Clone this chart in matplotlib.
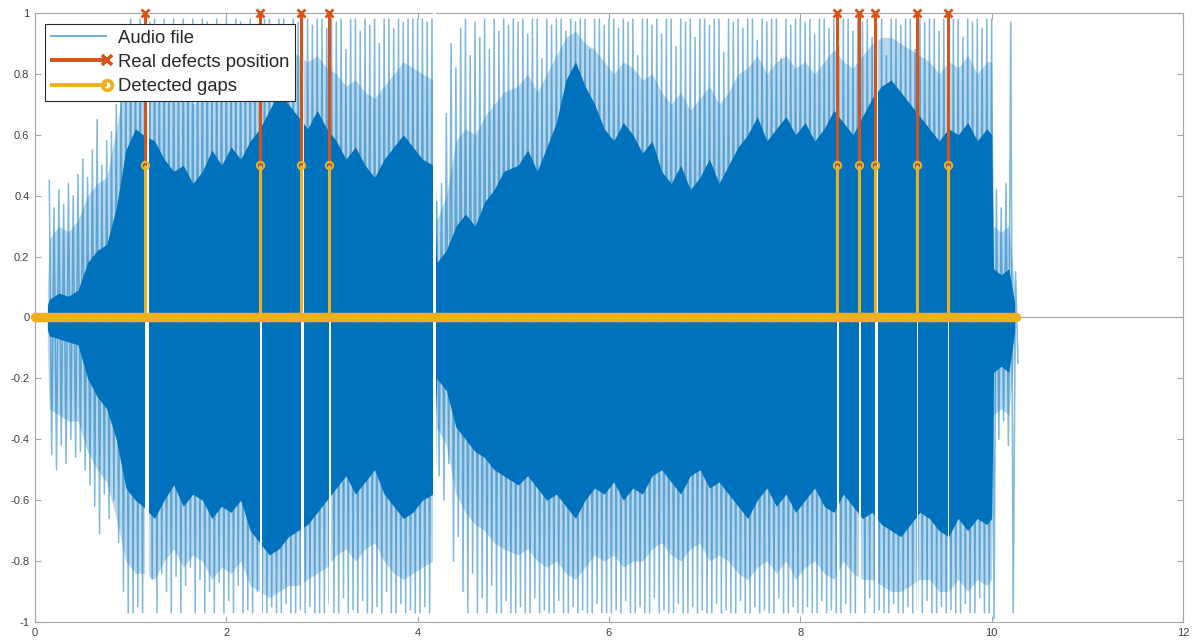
from matplotlib import pyplot as plt
from matplotlib.legend_handler import HandlerBase
from matplotlib.lines import Line2D
import numpy as np

plt.rcParams['font.family'] = ['Liberation Sans', 'DejaVu Sans']

# peak amplitude of the audio file in 50 ms frames (0.15 s ... 10.25 s)
peak_t = np.linspace(0.15, 10.25, 203)
peak_hi = [0.45, 0.36, 0.42, 0.37, 0.44, 0.40, 0.47, 0.52, 0.46, 0.55, 0.65, 0.50, 0.58, 0.61, 0.70, 0.92, 0.86,
           0.98, 0.95, 0.98, 0.96, 0.97, 0.98, 0.92, 0.98, 0.86, 0.98, 0.90, 0.98, 0.95, 0.98, 0.93, 0.98, 0.97, 0.84, 0.98, 0.96,
           0.98, 0.94, 0.98, 0.97, 0.91, 0.98, 0.96, 0.98, 0.98, 0.98, 0.95, 0.98, 0.98, 0.93, 0.98, 0.97, 0.98, 0.98, 0.96, 0.98,
           0.98, 0.95, 0.98, 0.97, 0.98, 0.88, 0.98, 0.98, 0.94, 0.98, 0.96, 0.98, 0.90, 0.98, 0.98, 0.95, 0.98, 0.97, 0.98, 0.98,
           0.98, 0.98, 0.97, 0.98, 0.38, 0.44, 0.67, 0.90, 0.82, 0.95, 0.98, 0.86, 0.97, 0.92, 0.98, 0.88, 0.98, 0.94, 0.98, 0.96,
           0.98, 0.97, 0.98, 0.93, 0.98, 0.98, 0.85, 0.98, 0.96, 0.98, 0.98, 0.94, 0.98, 0.97, 0.98, 0.98, 0.88, 0.98, 0.98, 0.96,
           0.98, 0.98, 0.95, 0.98, 0.97, 0.98, 0.86, 0.98, 0.98, 0.96, 0.98, 0.93, 0.98, 0.98, 0.89, 0.98, 0.97, 0.98, 0.92, 0.98,
           0.98, 0.96, 0.98, 0.98, 0.87, 0.98, 0.97, 0.98, 0.95, 0.98, 0.98, 0.91, 0.98, 0.97, 0.98, 0.98, 0.85, 0.98, 0.96, 0.98,
           0.98, 0.97, 0.98, 0.93, 0.98, 0.98, 0.95, 0.98, 0.89, 0.98, 0.98, 0.94, 0.98, 0.97, 0.98, 0.92, 0.98, 0.98, 0.86, 0.98,
           0.98, 0.96, 0.98, 0.98, 0.88, 0.98, 0.97, 0.98, 0.98, 0.94, 0.98, 0.90, 0.98, 0.98, 0.92, 0.98, 0.97, 0.98, 0.95, 0.98,
           0.98, 0.42, 0.36, 0.44, 0.97, 0.15]
peak_lo = [-0.45, -0.50, -0.42, -0.48, -0.40, -0.46, -0.44, -0.50, -0.55, -0.62, -0.71, -0.58, -0.66, -0.60, -0.74, -0.90, -0.97,
           -0.97, -0.95, -0.97, -0.90, -0.86, -0.97, -0.84, -0.90, -0.97, -0.85, -0.97, -0.88, -0.82, -0.97, -0.86, -0.97, -0.90, -0.97, -0.87, -0.97,
           -0.93, -0.97, -0.88, -0.97, -0.96, -0.97, -0.90, -0.97, -0.97, -0.95, -0.97, -0.97, -0.94, -0.97, -0.97, -0.96, -0.97, -0.95, -0.97, -0.97,
           -0.97, -0.94, -0.97, -0.97, -0.92, -0.97, -0.96, -0.97, -0.93, -0.97, -0.97, -0.95, -0.97, -0.90, -0.97, -0.97, -0.94, -0.97, -0.96, -0.97,
           -0.97, -0.95, -0.97, -0.97, -0.52, -0.60, -0.48, -0.80, -0.72, -0.90, -0.97, -0.84, -0.97, -0.92, -0.97, -0.88, -0.97, -0.97, -0.93, -0.97,
           -0.97, -0.95, -0.97, -0.97, -0.92, -0.97, -0.96, -0.97, -0.97, -0.93, -0.97, -0.97, -0.95, -0.97, -0.96, -0.97, -0.97, -0.94, -0.97, -0.97,
           -0.97, -0.96, -0.97, -0.93, -0.97, -0.97, -0.95, -0.97, -0.97, -0.92, -0.97, -0.96, -0.97, -0.97, -0.94, -0.97, -0.97, -0.95, -0.97, -0.96,
           -0.97, -0.97, -0.94, -0.97, -0.96, -0.97, -0.97, -0.93, -0.97, -0.97, -0.95, -0.97, -0.96, -0.97, -0.97, -0.92, -0.97, -0.97, -0.95, -0.97,
           -0.97, -0.95, -0.97, -0.97, -0.93, -0.97, -0.96, -0.97, -0.97, -0.94, -0.97, -0.97, -0.95, -0.97, -0.92, -0.97, -0.96, -0.97, -0.97, -0.94,
           -0.97, -0.97, -0.95, -0.97, -0.96, -0.97, -0.93, -0.97, -0.97, -0.95, -0.97, -0.96, -0.97, -0.97, -0.94, -0.97, -0.97, -0.92, -0.97, -0.97,
           -0.99, -0.40, -0.34, -0.42, -0.97, -0.15]

# envelopes of the waveform: dense body and the busy band around it
core_t = [0.13, 0.15, 0.25, 0.35, 0.45, 0.55, 0.65, 0.75, 0.85, 0.95,
          1.05, 1.13, 1.25, 1.35, 1.45, 1.55, 1.65, 1.75, 1.85, 1.95,
          2.05, 2.15, 2.25, 2.35, 2.45, 2.55, 2.65, 2.75, 2.85, 2.95,
          3.05, 3.15, 3.25, 3.35, 3.45, 3.55, 3.65, 3.75, 3.85, 3.95,
          4.05, 4.16, 4.20, 4.30, 4.40, 4.50, 4.60, 4.70, 4.80, 4.90,
          5.05, 5.15, 5.25, 5.35, 5.45, 5.55, 5.65, 5.75, 5.85, 5.95,
          6.05, 6.15, 6.25, 6.35, 6.45, 6.55, 6.65, 6.75, 6.85, 6.95,
          7.05, 7.15, 7.25, 7.35, 7.45, 7.55, 7.65, 7.75, 7.85, 7.95,
          8.05, 8.15, 8.25, 8.35, 8.45, 8.55, 8.65, 8.75, 8.85, 8.95,
          9.05, 9.15, 9.25, 9.35, 9.45, 9.55, 9.65, 9.75, 9.85, 9.95,
          10.00, 10.02, 10.10, 10.18, 10.24]
core_hi = [0.04, 0.06, 0.08, 0.07, 0.09, 0.18, 0.22, 0.24, 0.36, 0.55,
           0.62, 0.60, 0.58, 0.52, 0.48, 0.50, 0.44, 0.48, 0.55, 0.50,
           0.56, 0.52, 0.58, 0.62, 0.68, 0.74, 0.70, 0.66, 0.62, 0.68,
           0.62, 0.58, 0.52, 0.56, 0.50, 0.46, 0.52, 0.56, 0.60, 0.56,
           0.52, 0.50, 0.18, 0.22, 0.30, 0.34, 0.30, 0.38, 0.42, 0.48,
           0.50, 0.55, 0.48, 0.56, 0.64, 0.78, 0.84, 0.76, 0.70, 0.62,
           0.58, 0.64, 0.60, 0.54, 0.58, 0.48, 0.44, 0.50, 0.42, 0.46,
           0.52, 0.44, 0.50, 0.56, 0.60, 0.66, 0.58, 0.62, 0.66, 0.60,
           0.64, 0.58, 0.62, 0.68, 0.64, 0.60, 0.66, 0.72, 0.76, 0.78,
           0.74, 0.70, 0.66, 0.62, 0.58, 0.62, 0.60, 0.64, 0.58, 0.62,
           0.60, 0.16, 0.14, 0.16, 0.05]
core_lo = [-0.04, -0.06, -0.07, -0.08, -0.09, -0.20, -0.26, -0.30, -0.40, -0.56,
           -0.60, -0.62, -0.66, -0.60, -0.55, -0.62, -0.58, -0.60, -0.66, -0.62,
           -0.64, -0.60, -0.70, -0.74, -0.78, -0.76, -0.72, -0.70, -0.68, -0.64,
           -0.60, -0.56, -0.52, -0.58, -0.54, -0.50, -0.58, -0.62, -0.66, -0.64,
           -0.60, -0.58, -0.20, -0.24, -0.36, -0.40, -0.44, -0.46, -0.50, -0.52,
           -0.55, -0.52, -0.56, -0.60, -0.58, -0.62, -0.66, -0.60, -0.56, -0.58,
           -0.54, -0.60, -0.56, -0.58, -0.52, -0.50, -0.54, -0.58, -0.52, -0.50,
           -0.56, -0.54, -0.58, -0.62, -0.66, -0.60, -0.56, -0.62, -0.58, -0.64,
           -0.60, -0.56, -0.62, -0.64, -0.58, -0.62, -0.66, -0.64, -0.68, -0.70,
           -0.72, -0.68, -0.64, -0.66, -0.70, -0.72, -0.66, -0.70, -0.66, -0.68,
           -0.66, -0.18, -0.16, -0.18, -0.05]
busy_hi = [0.10, 0.26, 0.30, 0.28, 0.32, 0.40, 0.44, 0.46, 0.62, 0.80,
           0.84, 0.82, 0.80, 0.76, 0.72, 0.74, 0.70, 0.72, 0.78, 0.74,
           0.78, 0.76, 0.80, 0.84, 0.88, 0.90, 0.88, 0.86, 0.84, 0.86,
           0.82, 0.80, 0.76, 0.78, 0.74, 0.72, 0.76, 0.80, 0.84, 0.82,
           0.80, 0.78, 0.32, 0.40, 0.58, 0.62, 0.60, 0.66, 0.70, 0.74,
           0.76, 0.80, 0.74, 0.80, 0.86, 0.92, 0.94, 0.90, 0.88, 0.84,
           0.80, 0.84, 0.82, 0.78, 0.80, 0.74, 0.70, 0.74, 0.68, 0.72,
           0.76, 0.70, 0.74, 0.80, 0.82, 0.86, 0.80, 0.84, 0.86, 0.82,
           0.84, 0.80, 0.84, 0.88, 0.84, 0.82, 0.86, 0.90, 0.92, 0.92,
           0.90, 0.88, 0.86, 0.84, 0.80, 0.84, 0.82, 0.86, 0.80, 0.84,
           0.84, 0.30, 0.28, 0.30, 0.10]
busy_lo = [-0.10, -0.30, -0.32, -0.34, -0.34, -0.44, -0.50, -0.54, -0.66, -0.80,
           -0.84, -0.84, -0.86, -0.80, -0.76, -0.82, -0.78, -0.80, -0.86, -0.82,
           -0.84, -0.80, -0.88, -0.90, -0.92, -0.90, -0.88, -0.88, -0.86, -0.84,
           -0.82, -0.78, -0.76, -0.80, -0.76, -0.74, -0.80, -0.84, -0.86, -0.84,
           -0.82, -0.80, -0.36, -0.42, -0.58, -0.64, -0.68, -0.70, -0.74, -0.76,
           -0.78, -0.76, -0.80, -0.82, -0.80, -0.84, -0.86, -0.82, -0.78, -0.80,
           -0.78, -0.82, -0.80, -0.80, -0.76, -0.74, -0.78, -0.80, -0.76, -0.74,
           -0.80, -0.78, -0.80, -0.84, -0.86, -0.82, -0.80, -0.84, -0.80, -0.86,
           -0.82, -0.80, -0.84, -0.86, -0.80, -0.84, -0.86, -0.86, -0.88, -0.90,
           -0.90, -0.88, -0.86, -0.86, -0.90, -0.90, -0.86, -0.90, -0.86, -0.88,
           -0.86, -0.32, -0.30, -0.32, -0.10]

# defects (s), detector output and length of each silent gap (s)
defects = [1.15, 2.35, 2.78, 3.07, 8.38, 8.61, 8.78, 9.22, 9.54]
detected = [1.15, 2.35, 2.78, 3.07, 8.38, 8.61, 8.78, 9.22, 9.54]
gap_len = [0.045, 0.028, 0.028, 0.028, 0.028, 0.024, 0.028, 0.014, 0.017]
dropout_t = [4.165]
dropout_len = [0.03]
frame_t = np.arange(0, 10.255, 0.01)

blue = '#0072BD'
red = '#D95319'
yellow = '#EDB120'


class EndMarkerHandler(HandlerBase):
    # legend line with the marker sitting at its right end
    def create_artists(self, legend, orig, xdescent, ydescent, width, height, fontsize, trans):
        y = height / 2 - ydescent
        x0, x1 = -xdescent, width - xdescent
        line = Line2D([x0, x1 - 3], [y, y], color=orig.get_color(), lw=orig.get_linewidth(),
                      alpha=orig.get_alpha(), solid_capstyle='butt', transform=trans)
        out = [line]
        if orig.get_marker() != 'None':
            mk = Line2D([x1 - 3], [y], linestyle='none', marker=orig.get_marker(),
                        ms=orig.get_markersize(), mew=orig.get_markeredgewidth(),
                        mec=orig.get_markeredgecolor(), mfc=orig.get_markerfacecolor(),
                        transform=trans)
            out.append(mk)
        return out


fig = plt.figure(figsize=(11.93, 6.44), dpi=100)
ax = fig.add_axes([0.0293, 0.0342, 0.9623, 0.9456])

ax.axhline(0, color='#a6a6a6', lw=0.8, zorder=0)

# audio waveform: peaks swing between the upper and lower values of each frame
zig_t = np.column_stack([peak_t, peak_t + 0.025]).ravel()
zig_v = np.column_stack([peak_hi, peak_lo]).ravel()
ax.plot(zig_t, zig_v, color=blue, lw=1.1, alpha=0.5, zorder=1)
ax.fill_between(core_t, busy_lo, busy_hi, color=blue, alpha=0.28, lw=0, zorder=1.5)
ax.fill_between(core_t, core_lo, core_hi, color=blue, lw=0, zorder=2)
for g, w in zip(detected + dropout_t, gap_len + dropout_len):
    ax.axvspan(g, g + w, color='white', lw=0, zorder=3)

# real defects
ax.vlines(defects, 0, 1, color=red, lw=2.2, zorder=4)
ax.plot(defects, np.ones(len(defects)), 'x', color=red, ms=5.5, mew=2.0, zorder=4, clip_on=False)

# detected gaps
gap_t = np.concatenate([frame_t, detected])
gap_v = np.concatenate([np.zeros(len(frame_t)), np.full(len(detected), 0.5)])
ax.vlines(detected, 0, 0.5, color=yellow, lw=2.2, zorder=5)
ax.plot(gap_t, gap_v, 'o', mfc='none', mec=yellow, ms=5.2, mew=1.5, zorder=5, clip_on=False)

ax.set_xlim(0, 12)
ax.set_ylim(-1, 1)
ax.set_xticks(range(0, 13, 2))
yt = np.round(np.linspace(-1, 1, 11), 1)
ax.set_yticks(yt)
ax.set_yticklabels(['%g' % v for v in yt])
ax.tick_params(direction='in', top=True, right=True, length=4, width=0.8,
               colors='#a6a6a6', labelcolor='#404040', labelsize=8, pad=4)
for s in ax.spines.values():
    s.set_color('#a6a6a6')
    s.set_linewidth(0.8)

handles = [Line2D([], [], color=blue, lw=1.3, alpha=0.6),
           Line2D([], [], color=red, lw=2.8, marker='x', ms=7, mew=2.6),
           Line2D([], [], color=yellow, lw=2.8, marker='o', mfc='none', ms=7, mew=2.6)]
labels = ['Audio file', 'Real defects position', 'Detected gaps']
leg = ax.legend(handles, labels, loc='upper left', bbox_to_anchor=(0.0087, 0.982),
                handler_map={Line2D: EndMarkerHandler()}, fontsize=13.3, fancybox=False,
                edgecolor='#262626', framealpha=1, handlelength=3.3, handletextpad=0.35,
                labelspacing=0.4, borderpad=0.3, borderaxespad=0)
leg.get_frame().set_linewidth(0.8)
leg.set_zorder(10)
for t in leg.get_texts():
    t.set_color('#262626')

plt.savefig('out.png', dpi=100)
